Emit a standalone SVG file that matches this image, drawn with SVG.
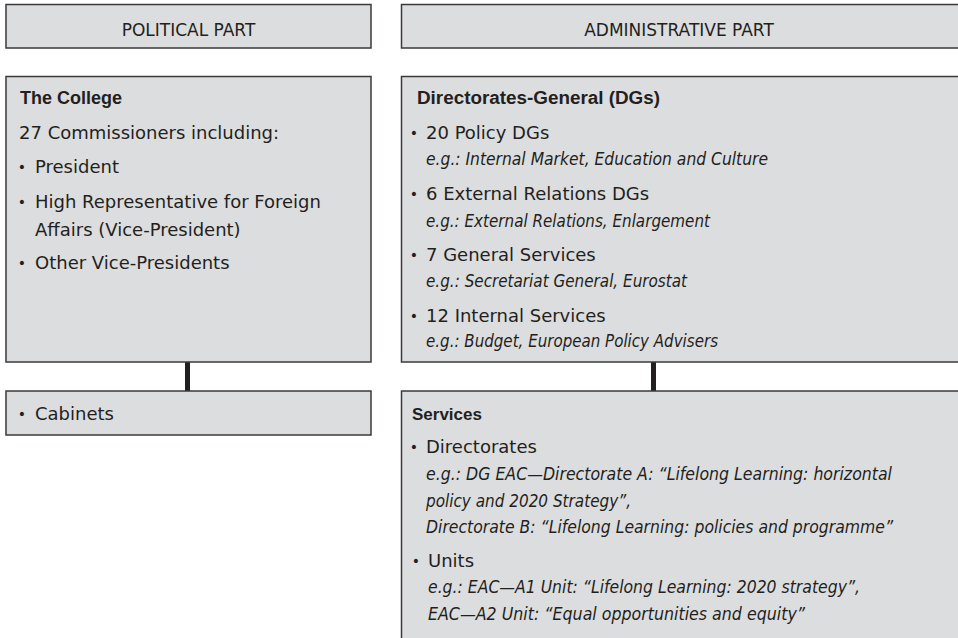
<svg xmlns="http://www.w3.org/2000/svg" width="958" height="638" viewBox="0 0 958 638">
<style>
.box{fill:#dcdddf;stroke:#3a3a3a;stroke-width:1.5}
.t{font-family:"DejaVu Sans","Liberation Sans",sans-serif;font-size:18px;fill:#231f20}
.h{font-family:"DejaVu Sans","Liberation Sans",sans-serif;font-size:17px;fill:#231f20;text-anchor:middle}
.b{font-family:"Liberation Sans","DejaVu Sans",sans-serif;font-size:18px;font-weight:bold;fill:#231f20}
.i{font-family:"DejaVu Sans","Liberation Sans",sans-serif;font-size:17.5px;font-style:italic;fill:#231f20}
.bu{font-family:"DejaVu Sans","Liberation Sans",sans-serif;font-size:14px;fill:#231f20;text-anchor:middle}
.con{stroke:#231f20;stroke-width:5;fill:none}
</style>
<rect width="958" height="638" fill="#ffffff"/>
<g id="connectors">
<line class="con" x1="187.5" y1="362" x2="187.5" y2="391"/>
<line class="con" x1="653.5" y1="362" x2="653.5" y2="391"/>
</g>
<g id="political-header">
<rect class="box" x="6" y="4.5" width="365" height="43.5"/>
<text class="h" x="188.5" y="36">POLITICAL PART</text>
</g>
<g id="administrative-header">
<rect class="box" x="401.5" y="4.5" width="570" height="43.5"/>
<text class="h" x="679" y="36">ADMINISTRATIVE PART</text>
</g>
<g id="college">
<rect class="box" x="6" y="76.5" width="365" height="285.5"/>
<text class="b" x="20" y="104">The College</text>
<text class="t" x="19" y="139">27 Commissioners including:</text>
<text class="bu" x="22" y="172">•</text>
<text class="t" x="35" y="173">President</text>
<text class="bu" x="22" y="207">•</text>
<text class="t" x="35" y="208">High Representative for Foreign</text>
<text class="t" x="35" y="236">Affairs (Vice-President)</text>
<text class="bu" x="22" y="268">•</text>
<text class="t" x="35" y="269">Other Vice-Presidents</text>
</g>
<g id="cabinets">
<rect class="box" x="6" y="391" width="365" height="44"/>
<text class="bu" x="22" y="419">•</text>
<text class="t" x="35" y="420">Cabinets</text>
</g>
<g id="directorates-general">
<rect class="box" x="401.5" y="76.5" width="570" height="285.5"/>
<text class="b" x="417" y="104" textLength="243" lengthAdjust="spacingAndGlyphs">Directorates-General (DGs)</text>
<text class="bu" x="414" y="138">•</text>
<text class="t" x="426" y="139">20 Policy DGs</text>
<text class="i" x="426" y="165" textLength="342" lengthAdjust="spacingAndGlyphs">e.g.: Internal Market, Education and Culture</text>
<text class="bu" x="414" y="199">•</text>
<text class="t" x="426" y="200">6 External Relations DGs</text>
<text class="i" x="426" y="227" textLength="284" lengthAdjust="spacingAndGlyphs">e.g.: External Relations, Enlargement</text>
<text class="bu" x="414" y="260">•</text>
<text class="t" x="426" y="261">7 General Services</text>
<text class="i" x="426" y="287" textLength="261" lengthAdjust="spacingAndGlyphs">e.g.: Secretariat General, Eurostat</text>
<text class="bu" x="414" y="321">•</text>
<text class="t" x="426" y="322">12 Internal Services</text>
<text class="i" x="426" y="347" textLength="292" lengthAdjust="spacingAndGlyphs">e.g.: Budget, European Policy Advisers</text>
</g>
<g id="services">
<rect class="box" x="401.5" y="391" width="570" height="260"/>
<text class="b" x="412" y="420" style="font-size:17px">Services</text>
<text class="bu" x="414" y="452">•</text>
<text class="t" x="426" y="453">Directorates</text>
<text class="i" x="426" y="480" textLength="466" lengthAdjust="spacingAndGlyphs">e.g.: DG EAC—Directorate A: “Lifelong Learning: horizontal</text>
<text class="i" x="426" y="507" textLength="205" lengthAdjust="spacingAndGlyphs">policy and 2020 Strategy”,</text>
<text class="i" x="426" y="533" textLength="467" lengthAdjust="spacingAndGlyphs">Directorate B: “Lifelong Learning: policies and programme”</text>
<text class="bu" x="416" y="566">•</text>
<text class="t" x="428" y="567">Units</text>
<text class="i" x="428" y="593" textLength="432" lengthAdjust="spacingAndGlyphs">e.g.: EAC—A1 Unit: “Lifelong Learning: 2020 strategy”,</text>
<text class="i" x="428" y="620" textLength="377" lengthAdjust="spacingAndGlyphs">EAC—A2 Unit: “Equal opportunities and equity”</text>
</g>
</svg>
